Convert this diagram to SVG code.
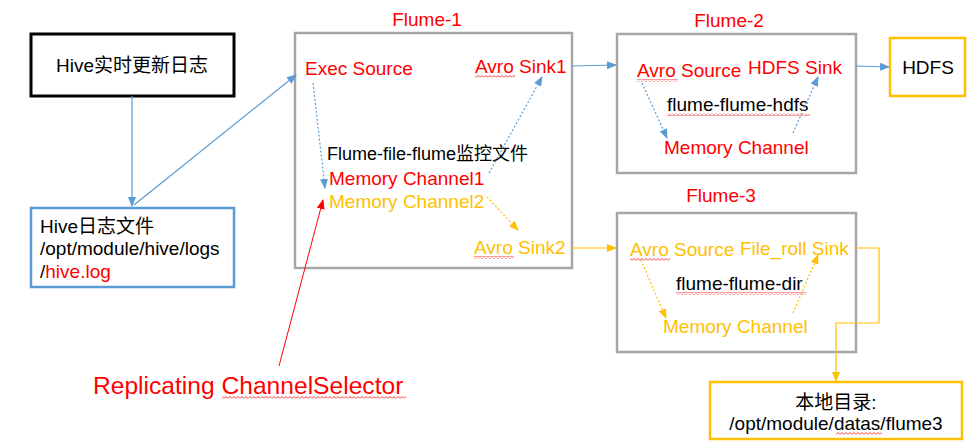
<svg xmlns="http://www.w3.org/2000/svg" width="972" height="445" viewBox="0 0 972 445">
<style>
text{font-family:"Liberation Sans","Noto Sans CJK SC",Arial,sans-serif;font-size:19px}
.r{fill:#FF0000}.o{fill:#FFC000}.k{fill:#000}
.box{fill:#fff;stroke:#A6A6A6;stroke-width:2.5}
.bl{stroke:#5B9BD5;stroke-width:1.2;fill:none}
.or{stroke:#FFC000;stroke-width:1.2;fill:none}
.rd{stroke:#FF0000;stroke-width:1;fill:none}
.dot{stroke-dasharray:2 2}
.wv{fill:url(#wave)}
</style>
<defs>
<marker id="ab" markerWidth="10" markerHeight="8" refX="9" refY="4" orient="auto" markerUnits="userSpaceOnUse"><path d="M0,0 L10,4 L0,8 Z" fill="#5B9BD5"/></marker>
<marker id="ao" markerWidth="10" markerHeight="8" refX="9" refY="4" orient="auto" markerUnits="userSpaceOnUse"><path d="M0,0 L10,4 L0,8 Z" fill="#FFC000"/></marker>
<marker id="ar" markerWidth="10" markerHeight="8" refX="9" refY="4" orient="auto" markerUnits="userSpaceOnUse"><path d="M0,0 L10,4 L0,8 Z" fill="#FF0000"/></marker>
<pattern id="wave" width="4" height="3" patternUnits="userSpaceOnUse"><path d="M0,2.5 L2,0.5 L4,2.5" stroke="#FF0000" stroke-width="0.8" fill="none"/></pattern>
</defs>

<g id="hive-source">
<rect x="31" y="34" width="203" height="62" fill="#fff" stroke="#000" stroke-width="3"/>
<text x="132" y="72" text-anchor="middle" class="k">Hive实时更新日志</text>
</g>

<g id="hive-log">
<rect x="31" y="208" width="203" height="79" fill="#fff" stroke="#5B9BD5" stroke-width="2.5"/>
<text x="40" y="233" class="k">Hive日志文件</text>
<text x="40" y="255" class="k">/opt/module/hive/logs</text>
<text x="40" y="278"><tspan class="k">/</tspan><tspan class="r">hive.log</tspan></text>
</g>

<g id="flume-1">
<text x="427" y="26" text-anchor="middle" class="r">Flume-1</text>
<rect x="295" y="33" width="277" height="235" class="box"/>
<text x="305" y="75" class="r">Exec Source</text>
<text x="475" y="73" class="r">Avro Sink1</text>
<rect x="475" y="75" width="40" height="3" class="wv"/>
<text x="327" y="160" class="k" style="font-size:18px">Flume-file-flume监控文件</text>
<text x="329" y="185" class="r">Memory Channel1</text>
<text x="329" y="208" class="o">Memory Channel2</text>
<text x="474" y="254" class="o">Avro Sink2</text>
<rect x="474" y="256" width="40" height="3" class="wv"/>
</g>

<g id="flume-2">
<text x="729" y="27" text-anchor="middle" class="r">Flume-2</text>
<rect x="617" y="34" width="239" height="139" class="box"/>
<text x="637" y="77" class="r">Avro Source</text>
<rect x="637" y="79" width="41" height="3" class="wv"/>
<text x="748" y="74" class="r">HDFS Sink</text>
<text x="667" y="111" class="k">flume-flume-hdfs</text>
<rect x="667" y="113" width="143" height="3" class="wv"/>
<text x="664" y="154" class="r">Memory Channel</text>
</g>

<g id="hdfs">
<rect x="890" y="38" width="75" height="58" fill="#fff" stroke="#FFC000" stroke-width="2.5"/>
<text x="928" y="74" text-anchor="middle" class="k">HDFS</text>
</g>

<g id="flume-3">
<text x="721" y="202" text-anchor="middle" class="r">Flume-3</text>
<rect x="617" y="213" width="239" height="139" class="box"/>
<text x="630" y="256" class="o">Avro Source</text>
<rect x="630" y="258" width="40" height="3" class="wv"/>
<text x="740" y="255" class="o">File_roll Sink</text>
<text x="676" y="290" class="k">flume-flume-dir</text>
<rect x="676" y="292" width="130" height="3" class="wv"/>
<text x="663" y="333" class="o">Memory Channel</text>
</g>

<g id="local-dir">
<rect x="710" y="382" width="252" height="57" fill="#fff" stroke="#FFC000" stroke-width="2.5"/>
<text x="836" y="409" text-anchor="middle" class="k">本地目录:</text>
<text x="836" y="430" text-anchor="middle" class="k">/opt/module/datas/flume3</text>
<rect x="836" y="432" width="46" height="3" class="wv"/>
</g>

<g id="selector-label">
<text x="93" y="394" class="r" style="font-size:24.6px">Replicating ChannelSelector</text>
<rect x="222" y="396" width="184" height="3" class="wv"/>
</g>

<g id="connectors">
<line x1="132" y1="96" x2="132" y2="206" class="bl" marker-end="url(#ab)"/>
<line x1="134" y1="205" x2="296" y2="75" class="bl" marker-end="url(#ab)"/>
<line x1="313" y1="83" x2="325" y2="188" class="bl dot" marker-end="url(#ab)"/>
<line x1="489" y1="173" x2="542" y2="77" class="bl dot" marker-end="url(#ab)"/>
<line x1="487" y1="197" x2="518" y2="230" class="or dot" marker-end="url(#ao)"/>
<line x1="279" y1="366" x2="323" y2="200" class="rd" marker-end="url(#ar)"/>
<line x1="572" y1="66" x2="616" y2="65" class="bl" marker-end="url(#ab)"/>
<line x1="572" y1="248" x2="616" y2="248" class="or" marker-end="url(#ao)"/>
<line x1="642" y1="83" x2="667" y2="138" class="bl dot" marker-end="url(#ab)"/>
<line x1="793" y1="133" x2="818" y2="77" class="bl dot" marker-end="url(#ab)"/>
<line x1="856" y1="66" x2="889" y2="67" class="bl" marker-end="url(#ab)"/>
<line x1="641" y1="260" x2="666" y2="318" class="or dot" marker-end="url(#ao)"/>
<line x1="793" y1="313" x2="818" y2="255" class="or dot" marker-end="url(#ao)"/>
<polyline points="856,248 879,248 879,323 836,323 836,381" class="or" marker-end="url(#ao)"/>
</g>
</svg>
